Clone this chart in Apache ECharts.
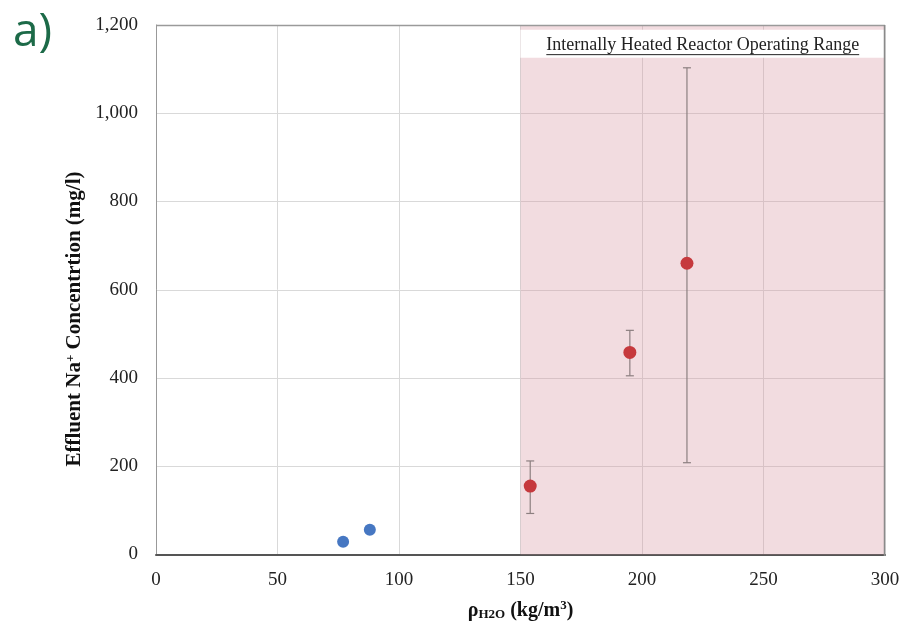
<!DOCTYPE html>
<html>
<head>
<meta charset="utf-8">
<script src="https://cdn.jsdelivr.net/npm/echarts@6/dist/echarts.min.js"></script>
<style>html,body{margin:0;padding:0;background:#fff;}#c{width:907px;height:626px;}</style>
</head>
<body>
<div id="c"></div>
<script>
// ---- data ----
const blueX = [77, 88];
const blueY = [29, 56];
const redX = [154, 195, 218.5];
const redY = [155, 458, 660];
const redLow = [93, 405, 208];
const redHigh = [212, 508, 1103];
const opRange = [150, 300];
const bandY = [1126, 1189];
const xTicks = [0, 50, 100, 150, 200, 250, 300];
const yTicks = [0, 200, 400, 600, 800, 1000, 1200];
const rangeLabel = 'Internally Heated Reactor Operating Range';

const G = {left: 156, right: 22, top: 25, bottom: 70};
const W = 907, H = 626;
const serif = '"Liberation Serif", "DejaVu Serif", serif';
const labelFont = 18;

const chart = echarts.init(document.getElementById('c'), null, {renderer: 'canvas'});

function fmt(v){ return String(v).replace(/\B(?=(\d{3})+(?!\d))/g, ','); }

const blueData = blueX.map((x, i) => [x, blueY[i]]);
const redData = redX.map((x, i) => [x, redY[i]]);
const errData = redX.map((x, i) => [x, redLow[i], redHigh[i]]);

const option = {
  animation: false,
  grid: {left: G.left, right: G.right, top: G.top, bottom: G.bottom, show: false},
  xAxis: {
    type: 'value', min: xTicks[0], max: xTicks[xTicks.length-1], interval: 50,
    axisLine: {show: true, lineStyle: {color: '#555', width: 2}},
    axisTick: {show: false},
    axisLabel: {color: '#222', fontFamily: serif, fontSize: 19, margin: 16},
    splitLine: {show: true, lineStyle: {color: '#d9d9d9', width: 1}},
    name: '{b|ρ}{s|H2O}{b| (kg/m}{sup|3}{b|)}',
    nameLocation: 'middle', nameGap: 45,
    nameTextStyle: {
      rich: {
        b: {fontFamily: serif, fontWeight: 'bold', fontSize: 20, color: '#111'},
        s: {fontFamily: serif, fontWeight: 'bold', fontSize: 13, color: '#111', padding: [8, 0, 0, 0]},
        sup: {fontFamily: serif, fontWeight: 'bold', fontSize: 13, color: '#111', padding: [0, 0, 9, 0]}
      }
    }
  },
  yAxis: {
    type: 'value', min: yTicks[0], max: yTicks[yTicks.length-1], interval: 200,
    axisLine: {show: true, lineStyle: {color: '#999', width: 1}},
    axisTick: {show: false},
    axisLabel: {color: '#222', fontFamily: serif, fontSize: 19, margin: 18, formatter: fmt},
    splitLine: {show: true, lineStyle: {color: '#d9d9d9', width: 1}}
  },
  series: [
    {
      type: 'scatter', name: 'band', data: [], silent: true, z: 1,
      markArea: {
        silent: true,
        itemStyle: {color: 'rgba(215,150,160,0.33)'},
        data: [[{xAxis: opRange[0], yAxis: yTicks[0]}, {xAxis: opRange[1], yAxis: yTicks[yTicks.length-1]}]]
      }
    },
    {
      type: 'scatter', name: 'labelband', data: [], silent: true, z: 1,
      markArea: {
        silent: true,
        itemStyle: {color: '#ffffff'},
        label: {show: true, position: 'inside', formatter: rangeLabel, fontFamily: serif, fontSize: labelFont, color: '#222', offset: [0, 2]},
        data: [[{xAxis: opRange[0], yAxis: bandY[0]}, {xAxis: opRange[1], yAxis: bandY[1]}]]
      }
    },
    {
      type: 'custom', name: 'err', z: 3,
      renderItem: function(params, api){
        const x = api.value(0);
        const lo = api.coord([x, api.value(1)]);
        const hi = api.coord([x, api.value(2)]);
        const c = 4;
        const st = {stroke: '#8c7f80', lineWidth: 1.2};
        return {type: 'group', children: [
          {type: 'line', shape: {x1: lo[0], y1: lo[1], x2: hi[0], y2: hi[1]}, style: st},
          {type: 'line', shape: {x1: lo[0]-c, y1: lo[1], x2: lo[0]+c, y2: lo[1]}, style: st},
          {type: 'line', shape: {x1: hi[0]-c, y1: hi[1], x2: hi[0]+c, y2: hi[1]}, style: st}
        ]};
      },
      data: errData
    },
    {
      type: 'scatter', name: 'blue', data: blueData, symbolSize: 12, z: 4,
      itemStyle: {color: '#4677c2', opacity: 1}
    },
    {
      type: 'scatter', name: 'red', data: redData, symbolSize: 13, z: 4,
      itemStyle: {color: '#c6393d', opacity: 1}
    }
  ]
};
chart.setOption(option);

// frame & decorations
const pl = G.left, pt = G.top, pr = W - G.right, pb = H - G.bottom;
const ctx = document.createElement('canvas').getContext('2d');
ctx.font = labelFont + 'px ' + serif;
const tw = ctx.measureText(rangeLabel).width;
const cx = (chart.convertToPixel({gridIndex: 0}, [opRange[0], 0])[0] + chart.convertToPixel({gridIndex: 0}, [opRange[1], 0])[0]) / 2;
const yUnder = chart.convertToPixel({gridIndex: 0}, [0, bandY[0]])[1] - 3;

chart.setOption({
  graphic: [
    {type: 'line', z: 10, shape: {x1: pl, y1: pt + 0.5, x2: pr, y2: pt + 0.5}, style: {stroke: '#9a9a9a', lineWidth: 1.5}},
    {type: 'line', z: 10, shape: {x1: pr - 0.5, y1: pt, x2: pr - 0.5, y2: pb}, style: {stroke: '#8a8a8a', lineWidth: 1.5}},
    {type: 'line', z: 10, shape: {x1: cx - tw/2, y1: yUnder, x2: cx + tw/2, y2: yUnder}, style: {stroke: '#222', lineWidth: 1}},
    {type: 'text', z: 10, left: 13, top: 10, style: {text: 'a)', font: '46px "Open Sans", sans-serif', fill: '#1c6a48'}},
    {
      type: 'text', z: 10, x: 75, y: 319, rotation: Math.PI / 2,
      style: {
        text: '{b|Effluent Na}{sup|+}{b| Concentrtion (mg/l)}',
        align: 'center', verticalAlign: 'middle',
        rich: {
          b: {fontFamily: serif, fontWeight: 'bold', fontSize: 21, fill: '#111'},
          sup: {fontFamily: serif, fontWeight: 'bold', fontSize: 13, fill: '#111', padding: [0, 0, 9, 0]}
        }
      }
    }
  ]
});
</script>
</body>
</html>
